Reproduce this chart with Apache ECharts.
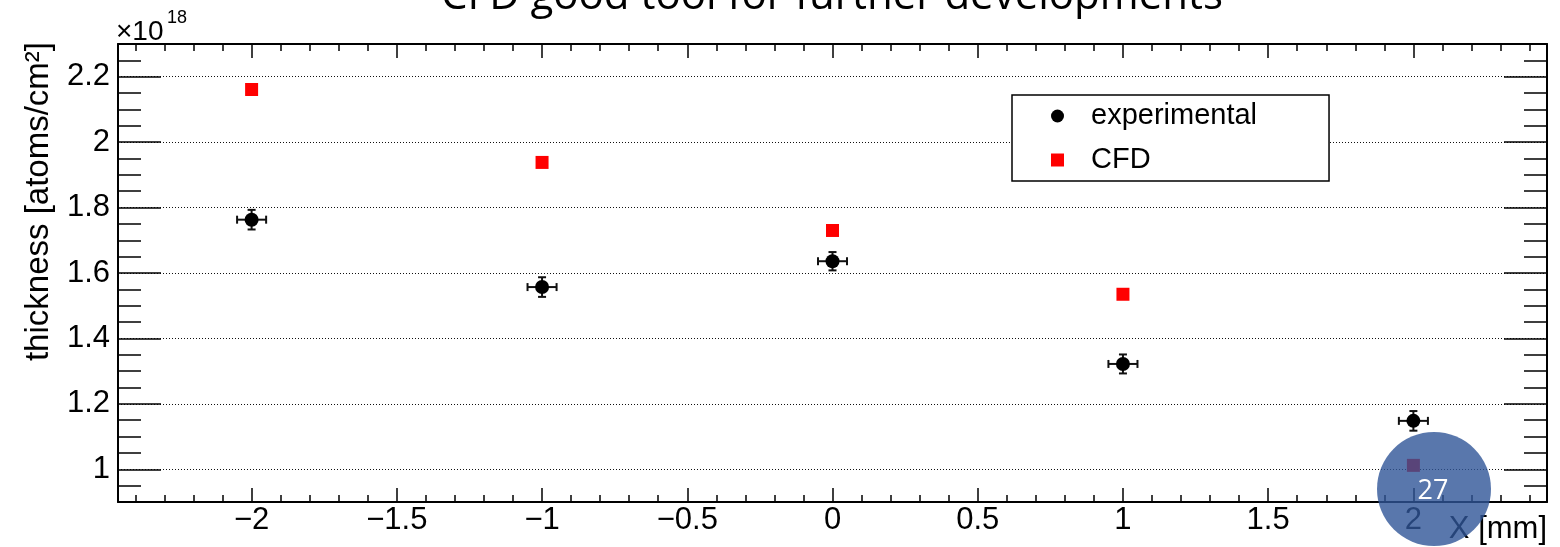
<!DOCTYPE html>
<html><head><meta charset="utf-8">
<script src="https://cdn.jsdelivr.net/npm/echarts@6/dist/echarts.min.js"></script>
<style>html,body{margin:0;padding:0;background:#fff}#c{width:1560px;height:547px}</style>
</head><body><div id="c"></div>
<script>
// ---- data ----
const xPositions = [-2, -1, 0, 1, 2];
const experimental = [1.763, 1.557, 1.636, 1.322, 1.148];
const expXErr = [0.05, 0.05, 0.05, 0.05, 0.05];
const expYErr = [0.03, 0.03, 0.028, 0.029, 0.03];
const cfd = [2.161, 1.938, 1.730, 1.535, 1.012];
const xTickValues = [-2, -1.5, -1, -0.5, 0, 0.5, 1, 1.5, 2];
const yTickValues = [1, 1.2, 1.4, 1.6, 1.8, 2, 2.2];
const xMinorValues = [-2.4,-2.3,-2.2,-2.1,-1.9,-1.8,-1.7,-1.6,-1.4,-1.3,-1.2,-1.1,-0.9,-0.8,-0.7,-0.6,-0.4,-0.3,-0.2,-0.1,0.1,0.2,0.3,0.4,0.6,0.7,0.8,0.9,1.1,1.2,1.3,1.4,1.6,1.7,1.8,1.9,2.1,2.2,2.3,2.4];
const yMinorValues = [0.95,1.05,1.1,1.15,1.25,1.3,1.35,1.45,1.5,1.55,1.65,1.7,1.75,1.85,1.9,1.95,2.05,2.1,2.15,2.25];
const xRange = [-2.46, 2.46];
const yRange = [0.9, 2.3];
const titleText = 'CFD good tool for further developments';
const yTitle = 'thickness [atoms/cm\u00B2]';
const xTitle = 'X [mm]';
const slideNumber = '27';

// ---- chart ----
const FONT = "'Liberation Sans', Arial, Helvetica, sans-serif";
const chart = echarts.init(document.getElementById('c'), null, {renderer: 'canvas'});

function fmt(v) { return (v < 0 ? '\u2212' : '') + String(Math.abs(v)); }

function xAxisDef(pos, values, len, showLine, showLabel) {
  return {
    type: 'value', position: pos, min: xRange[0], max: xRange[1],
    axisLine: {show: showLine, onZero: false, lineStyle: {color: '#000', width: 2}},
    axisTick: {show: true, inside: true, length: len, customValues: values, lineStyle: {color: '#000', width: 1.5}},
    axisLabel: showLabel ? {show: true, customValues: values, formatter: fmt, fontSize: 31, fontFamily: FONT, color: '#000', margin: 3} : {show: false},
    splitLine: {show: false}
  };
}
function yAxisDef(pos, values, len, showLine, showLabel, grid) {
  return {
    type: 'value', position: pos, min: yRange[0], max: yRange[1],
    axisLine: {show: showLine, onZero: false, lineStyle: {color: '#000', width: 2}},
    axisTick: {show: true, inside: true, length: len, customValues: values, lineStyle: {color: '#000', width: 1.5}},
    axisLabel: showLabel ? {show: true, customValues: values, formatter: fmt, fontSize: 31, fontFamily: FONT, color: '#000', margin: 8} : {show: false},
    splitLine: grid ? {show: true, lineStyle: {color: '#111', width: 1, type: [1, 2]}} : {show: false}
  };
}

const errData = xPositions.map((x, i) => [x, experimental[i], expXErr[i], expYErr[i]]);

const option = {
  backgroundColor: '#fff',
  animation: false,
  grid: {left: 118, right: 13, top: 44, bottom: 45, containLabel: false},
  xAxis: [
    xAxisDef('bottom', xTickValues, 14, true, true),
    xAxisDef('bottom', xMinorValues, 7, false, false),
    xAxisDef('top', xTickValues, 14, true, false),
    xAxisDef('top', xMinorValues, 7, false, false)
  ],
  yAxis: [
    yAxisDef('left', yTickValues, 43, true, true, true),
    yAxisDef('left', yMinorValues, 23, false, false, false),
    yAxisDef('right', yTickValues, 43, true, false, false),
    yAxisDef('right', yMinorValues, 23, false, false, false)
  ],
  legend: {
    orient: 'vertical', left: 1012, top: 95,
    data: [{name: 'experimental', icon: 'circle'}, {name: 'CFD', icon: 'rect'}],
    itemWidth: 13, itemHeight: 13, itemGap: 14,
    padding: [6, 72, 6, 39],
    borderColor: '#000', borderWidth: 1.5, borderRadius: 0, backgroundColor: '#fff',
    textStyle: {fontSize: 29, fontFamily: FONT, color: '#000', lineHeight: 28, padding: [2, 0, 0, 22]},
    selectedMode: false
  },
  series: [
    {
      name: 'experimental errors', type: 'custom', xAxisIndex: 0, yAxisIndex: 0, z: 3,
      data: errData,
      renderItem: function (params, api) {
        const x = api.value(0), y = api.value(1), ex = api.value(2), ey = api.value(3);
        const l = api.coord([x - ex, y]), r = api.coord([x + ex, y]);
        const b = api.coord([x, y - ey]), t = api.coord([x, y + ey]);
        const st = {stroke: '#111', lineWidth: 2};
        const cap = 4;
        return {type: 'group', children: [
          {type: 'line', shape: {x1: l[0], y1: l[1], x2: r[0], y2: r[1]}, style: st},
          {type: 'line', shape: {x1: b[0], y1: b[1], x2: t[0], y2: t[1]}, style: st},
          {type: 'line', shape: {x1: l[0], y1: l[1] - cap, x2: l[0], y2: l[1] + cap}, style: st},
          {type: 'line', shape: {x1: r[0], y1: r[1] - cap, x2: r[0], y2: r[1] + cap}, style: st},
          {type: 'line', shape: {x1: b[0] - cap, y1: b[1], x2: b[0] + cap, y2: b[1]}, style: st},
          {type: 'line', shape: {x1: t[0] - cap, y1: t[1], x2: t[0] + cap, y2: t[1]}, style: st}
        ]};
      }
    },
    {
      name: 'experimental', type: 'scatter', xAxisIndex: 0, yAxisIndex: 0, z: 4,
      symbol: 'circle', symbolSize: 14, itemStyle: {color: '#000', opacity: 1},
      data: xPositions.map((x, i) => [x, experimental[i]])
    },
    {
      name: 'CFD', type: 'scatter', xAxisIndex: 0, yAxisIndex: 0, z: 4,
      symbol: 'rect', symbolSize: 13, itemStyle: {color: '#ff0000', opacity: 1},
      data: xPositions.map((x, i) => [x, cfd[i]])
    }
  ],
  graphic: [
    {type: 'text', z: 50, x: 832, y: -3, style: {text: titleText, font: "42px 'Open Sans', 'Noto Sans', sans-serif", fill: '#000', textAlign: 'center', textVerticalAlign: 'middle'}},
    {type: 'text', z: 50, x: 116, y: 32, style: {text: '\u00D710', font: '28px ' + FONT, fill: '#000', textAlign: 'left', textVerticalAlign: 'middle'}},
    {type: 'text', z: 50, x: 167, y: 18, style: {text: '18', font: '18px ' + FONT, fill: '#000', textAlign: 'left', textVerticalAlign: 'middle'}},
    {type: 'text', z: 50, x: 39, y: 42, rotation: Math.PI / 2, style: {text: yTitle, font: '33px ' + FONT, fill: '#000', textAlign: 'right', textVerticalAlign: 'middle'}},
    {type: 'text', z: 50, x: 1547, y: 529, style: {text: xTitle, font: '31px ' + FONT, fill: '#000', textAlign: 'right', textVerticalAlign: 'middle'}},
    {type: 'circle', z: 60, shape: {cx: 1434, cy: 489, r: 57}, style: {fill: '#2F5597', opacity: 0.8}},
    {type: 'text', z: 61, x: 1433, y: 491, style: {text: slideNumber, font: "27px 'Open Sans', 'Noto Sans', sans-serif", fill: '#fff', textAlign: 'center', textVerticalAlign: 'middle'}}
  ]
};
chart.setOption(option);
</script>
</body></html>
